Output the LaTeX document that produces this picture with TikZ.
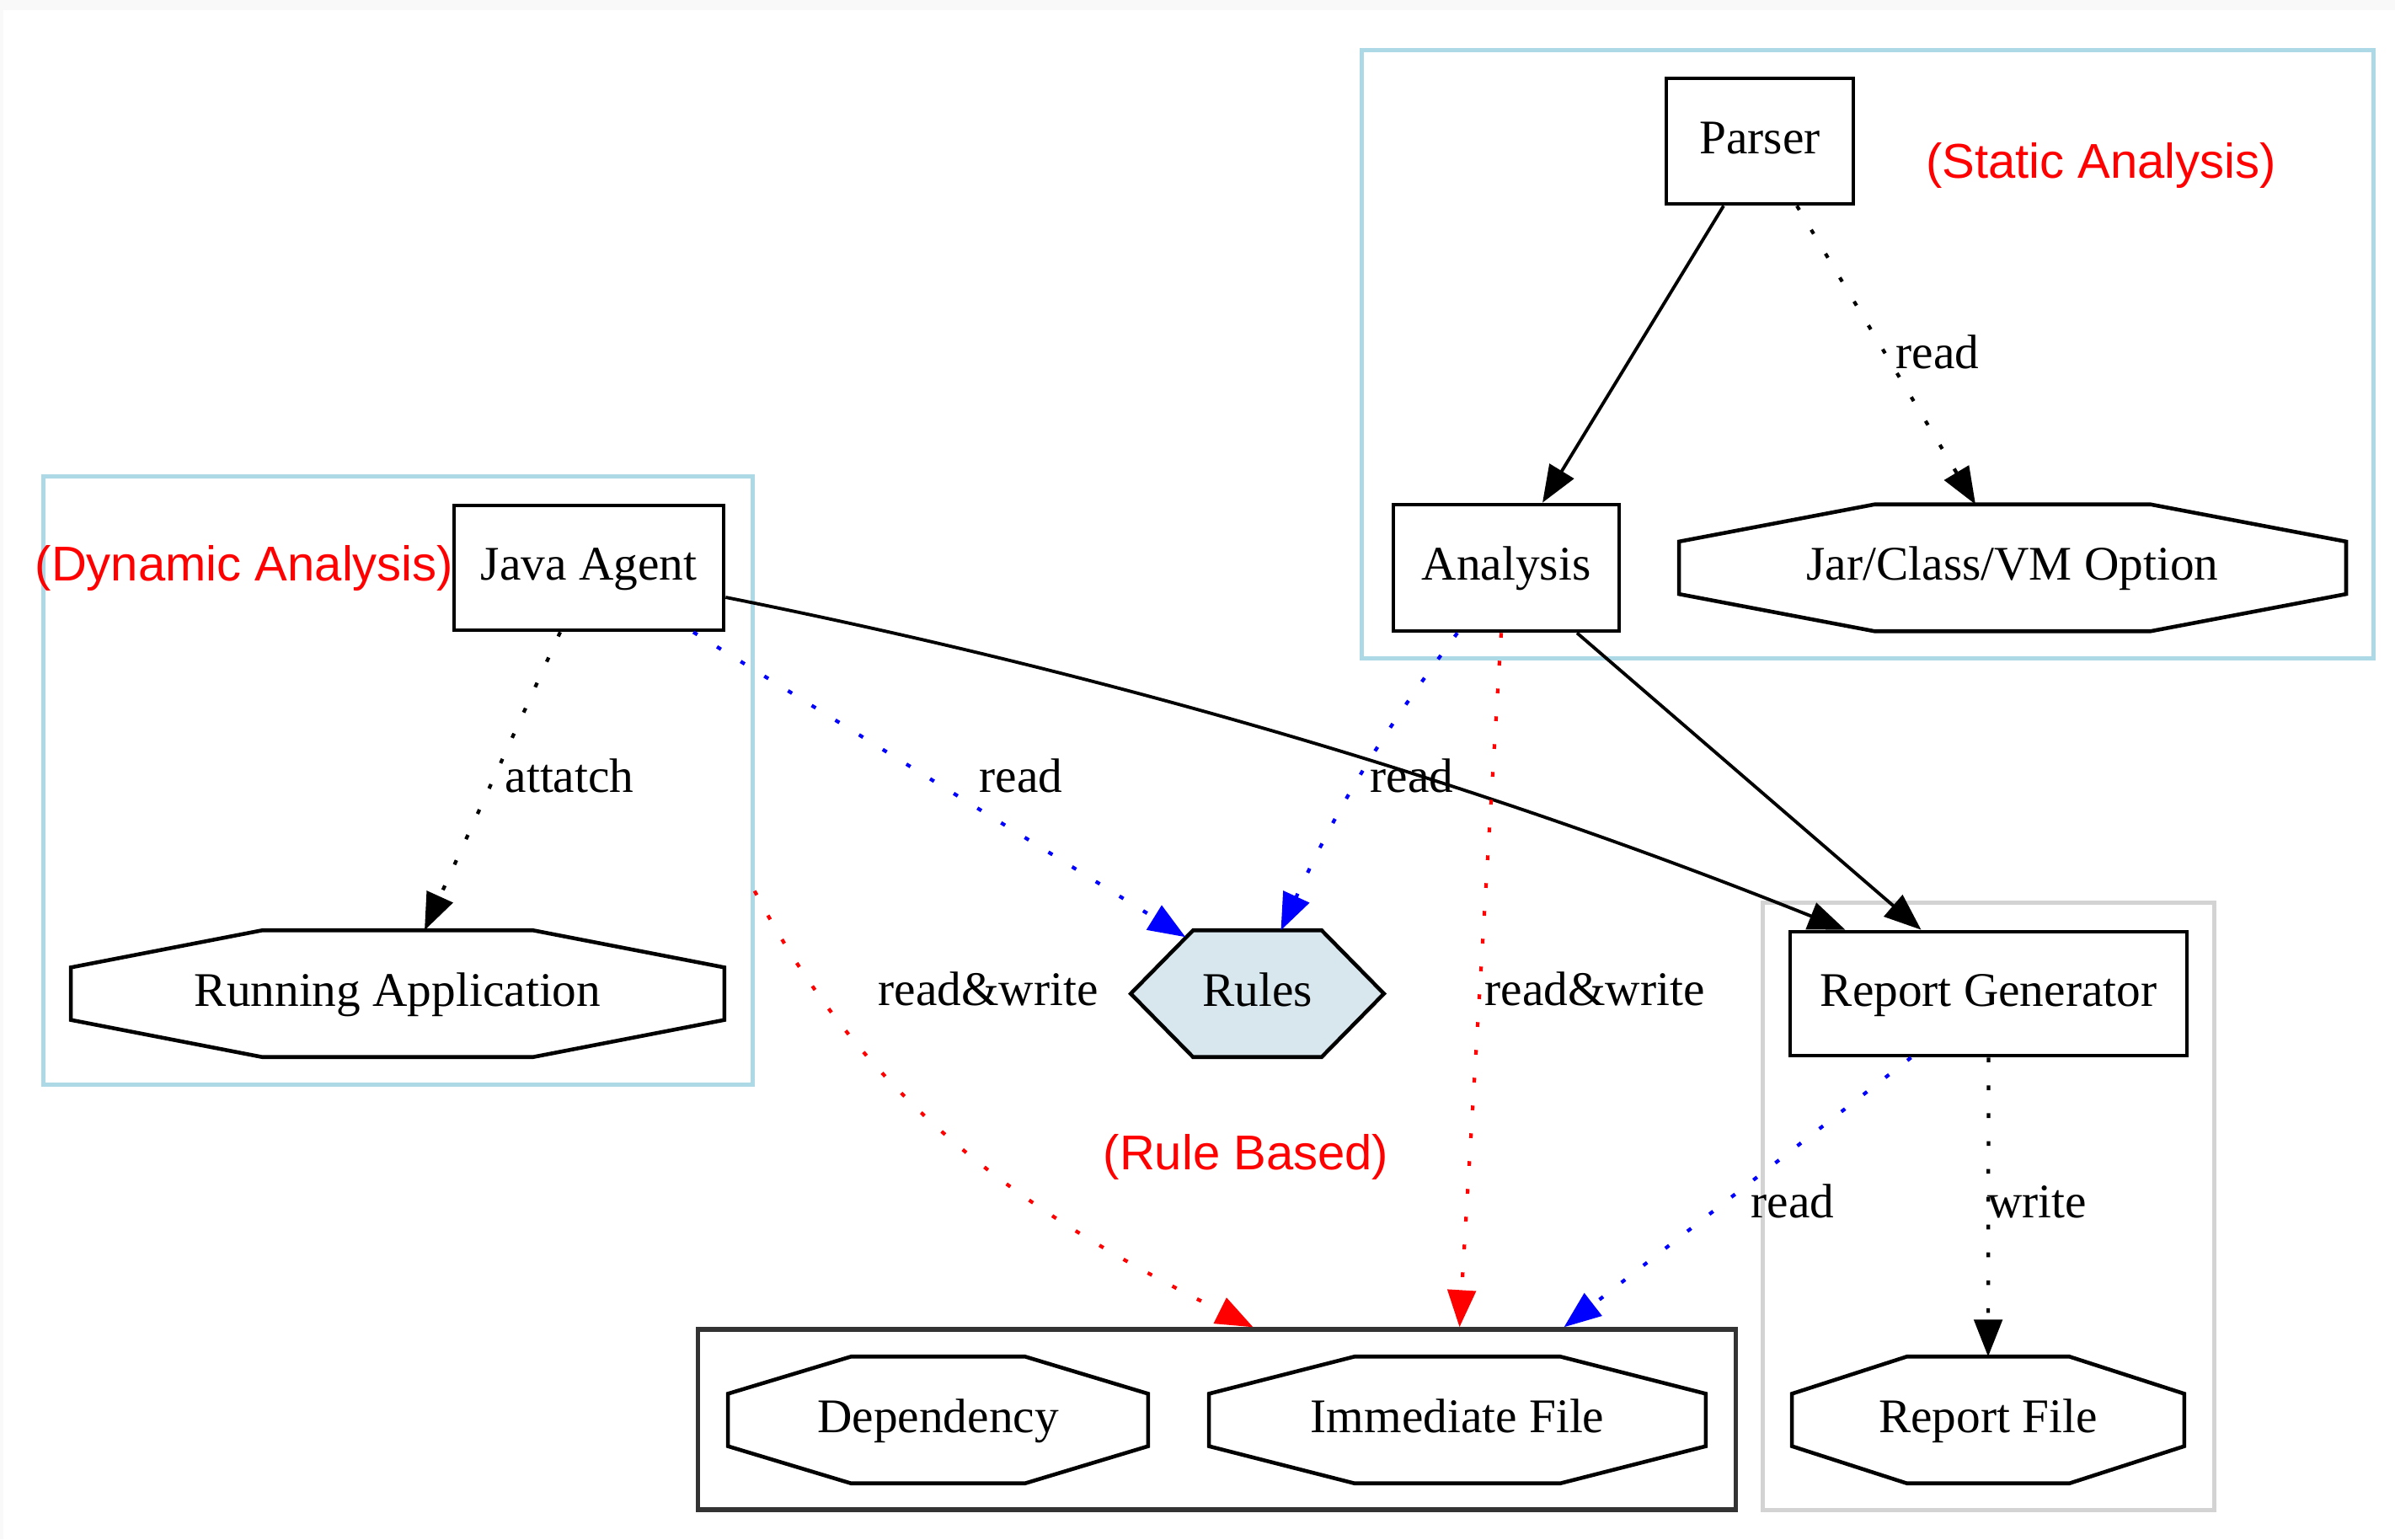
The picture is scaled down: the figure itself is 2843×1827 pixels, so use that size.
\documentclass[tikz,border=0pt]{standalone}
\usepackage{fontspec}
\setmainfont{Liberation Serif}
\newfontfamily\labelsans{Liberation Sans}
\usetikzlibrary{arrows.meta,calc,backgrounds}
\definecolor{clblue}{HTML}{ADD8E6}
\definecolor{clgrey}{HTML}{D3D3D3}
\definecolor{rulefill}{HTML}{D8E6EE}
\definecolor{pagegrey}{HTML}{F9F9F9}
\newcommand\octoshape[1]{\draw[shapeline] ($(#1.north west)!0.293!(#1.north east)$) -- ($(#1.north west)!0.707!(#1.north east)$) -- ($(#1.north east)!0.293!(#1.south east)$) -- ($(#1.north east)!0.707!(#1.south east)$) -- ($(#1.south west)!0.707!(#1.south east)$) -- ($(#1.south west)!0.293!(#1.south east)$) -- ($(#1.north west)!0.707!(#1.south west)$) -- ($(#1.north west)!0.293!(#1.south west)$) -- cycle;}
\begin{document}
\begin{tikzpicture}[x=0.01cm,y=-0.01cm,
  nodefont/.style={font=\fontsize{16.3pt}{19pt}\selectfont, text height=12pt, text depth=3.6pt},
  boxnode/.style={draw, line width=1.3pt, inner sep=0pt, nodefont},
  plainnode/.style={inner sep=0pt, nodefont},
  shapeline/.style={line width=1.3pt, line join=miter},
  lbl/.style={inner sep=0pt, nodefont},
  redlbl/.style={inner sep=0pt, text=red, font=\labelsans\fontsize{16.5pt}{19pt}\selectfont},
  cluster/.style={draw=clblue, line width=1.4pt, inner sep=0pt},
  edge/.style={line width=1.1pt, -{Triangle[length=12.5pt,width=9.5pt]}},
  dotline/.style={edge, line width=1.2pt, dash pattern=on 1.6pt off 7.8pt},
]
\useasboundingbox (0,0) rectangle (2843,1827);

% clusters
\node[cluster, minimum width=12.00cm, minimum height=7.21cm] (stat) at (2217,420.5) {};
\node[cluster, minimum width=8.41cm, minimum height=7.21cm] (dyn) at (472.5,926.5) {};
\node[draw=clgrey, line width=1.4pt, inner sep=0pt, minimum width=5.35cm, minimum height=7.20cm] (repc) at (2360.5,1432) {};
\node[draw=black!80, line width=1.5pt, inner sep=0pt, minimum width=12.31cm, minimum height=2.14cm] (fbox) at (1444.5,1685) {};

% nodes
\node[boxnode, minimum width=2.22cm, minimum height=1.49cm] (parser) at (2089,167.5) {Parser};
\node[boxnode, minimum width=2.68cm, minimum height=1.50cm] (analysis) at (1788,674) {Analysis};
\node[plainnode, minimum width=7.90cm, minimum height=1.49cm] (jar) at (2389,674) {Jar/Class/VM Option};
\node[boxnode, minimum width=3.20cm, minimum height=1.48cm] (ja) at (699,674) {Java Agent};
\node[plainnode, minimum width=7.74cm, minimum height=1.49cm] (ra) at (472,1179.5) {Running Application};
\node[plainnode, minimum width=2.99cm, minimum height=1.49cm] (rules) at (1492.5,1179.5) {Rules};
\node[boxnode, minimum width=4.71cm, minimum height=1.47cm] (rg) at (2360.5,1179.5) {Report Generator};
\node[plainnode, minimum width=4.64cm, minimum height=1.49cm] (rf) at (2360,1685.5) {Report File};
\node[plainnode, minimum width=4.97cm, minimum height=1.49cm] (dep) at (1113.5,1685.5) {Dependency};
\node[plainnode, minimum width=5.88cm, minimum height=1.49cm] (imm) at (1730,1685.5) {Immediate File};

\octoshape{jar}
\octoshape{ra}
\octoshape{rf}
\octoshape{dep}
\octoshape{imm}

\begin{scope}[on background layer]
\fill[pagegrey] (0,0) rectangle (2843,1827);
\fill[white] (4,12) rectangle (2843,1827);
\filldraw[fill=rulefill, shapeline] (rules.west) -- ($(rules.north west)+(74,0)$) -- ($(rules.north east)+(-74,0)$) -- (rules.east) -- ($(rules.south east)+(-74,0)$) -- ($(rules.south west)+(74,0)$) -- cycle;
\end{scope}

% edges
\draw[edge] ($(parser.south)+(-43,0)$) -- ($(analysis.north)+(43,0)$);
\draw[dotline] ($(parser.south)+(44,0)$) -- ($(jar.north)+(-44,0)$);
\draw[edge] ($(analysis.south)+(84,0)$) -- ($(rg.north)+(-80,0)$);
\draw[edge] ($(ja.east)+(0,35)$) .. controls +(450,90) and +(-450,-180) .. ($(rg.north)+(-170,0)$);
\draw[dotline, blue] ($(ja.south)+(124,0)$) -- ($(rules.north west)+(65,8)$);
\draw[dotline, blue] ($(analysis.south)+(-58,0)$) to[bend right=6] ($(rules.north)+(28,0)$);
\draw[dotline, red] ($(analysis.south)+(-6,0)$) -- ($(fbox.north)+(288,0)$);
\draw[dotline, red] ($(dyn.east)+(0,131)$) .. controls +(140,266) and +(-250,-125) .. ($(fbox.north)+(43,0)$);
\draw[dotline, blue] ($(rg.south)+(-92,0)$) -- ($(fbox.north)+(412,0)$);
\draw[dotline] (rg.south) -- (rf.north);
\draw[dotline] ($(ja.south)+(-34,0)$) -- ($(ra.north)+(32,0)$);

% edge labels
\node[lbl] (l1) at (2300,423) {read};
\node[lbl] (l2) at (676,926) {attatch};
\node[lbl] (l3) at (1212,926) {read};
\node[lbl] (l4) at (1676,926) {read};
\node[lbl] (l5) at (1173,1179) {read\&write};
\node[lbl] (l6) at (1893,1179) {read\&write};
\node[lbl] (l7) at (2128,1431) {read};
\node[lbl] (l8) at (2418,1431) {write};

% cluster labels
\node[redlbl] (t1) at (2494,196) {(Static Analysis)};
\node[redlbl] (t2) at (290,674) {(Dynamic Analysis)};
\node[redlbl] (t3) at (1479,1373) {(Rule Based)};
\end{tikzpicture}
\end{document}
